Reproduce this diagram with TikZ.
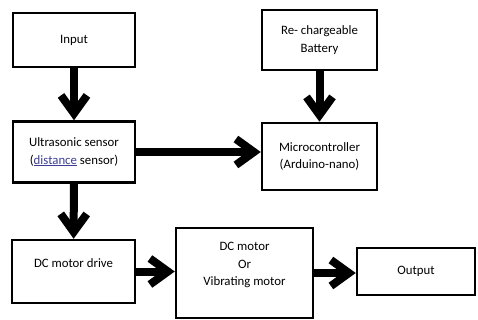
\documentclass[tikz,border=0pt]{standalone}
\usepackage{fontspec}
\setmainfont{Carlito}
\usepackage{tikz}
\usetikzlibrary{arrows.meta,positioning,calc}
\usepackage{xcolor}
\definecolor{linkblue}{RGB}{60,60,150}

\begin{document}
\begin{tikzpicture}[x=1pt, y=-1pt,
    block/.style={draw, line width=2.5pt, align=center, inner sep=2pt,
      font=\fontsize{12.8}{17.5}\selectfont},
    flow/.style={line width=8pt, -{Straight Barb[length=18pt, width=26pt, line width=8pt]}}]
  \useasboundingbox (0,0) rectangle (478,320);

  % top row
  \node[block, minimum width=122, minimum height=54] (in) at (74,40) {Input};
  \node[block, minimum width=115, minimum height=60] (bat) at (319.5,40)
    {Re- chargeable\\Battery};

  % sensor and controller
  \node[block, minimum width=122, minimum height=61] (us) at (74,152)
    {Ultrasonic sensor\\(\textcolor{linkblue}{\underline{distance}} sensor)};
  \node[block, minimum width=115, minimum height=67] (mc) at (319.5,156.5)
    {Microcontroller\\(Arduino-nano)};

  % bottom row
  \node[block, minimum width=123, minimum height=63] (drv) at (73.5,271.5)
    {DC motor drive\\~};
  \node[block, minimum width=137, minimum height=90] (mot) at (244.5,273)
    {DC motor\\Or\\Vibrating motor\\~};
  \node[block, minimum width=118, minimum height=47] (out) at (416,271.5) {Output};

  % arrows
  \draw[flow] (in) -- (us);
  \draw[flow] (bat) -- (mc);
  \draw[flow] (us.east) -- (us.east -| mc.west);
  \draw[flow] (us) -- (drv);
  \draw[flow] (drv.east) -- (drv.east -| mot.west);
  \draw[flow] (mot.east) -- (mot.east -| out.west);
\end{tikzpicture}
\end{document}
